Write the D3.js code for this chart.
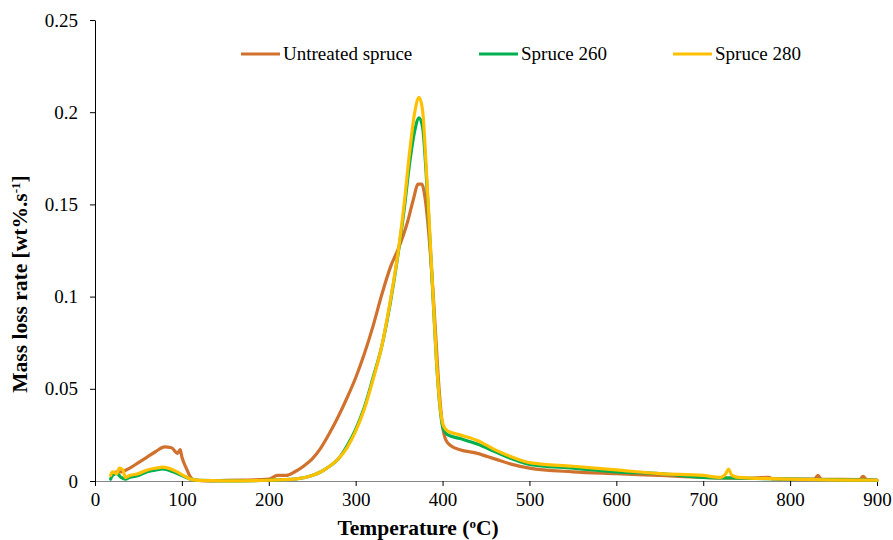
<!DOCTYPE html>
<html><head><meta charset="utf-8">
<script src="https://cdn.jsdelivr.net/npm/d3@7"></script>
<style>body{margin:0;background:#fff}svg{display:block}text{font-family:"Liberation Serif","Times New Roman",serif}</style>
</head><body><svg id="c" width="893" height="540"></svg>
<script>
// ---- data ----
const xTicks = [0,100,200,300,400,500,600,700,800,900];
const yTicks = [0,0.05,0.1,0.15,0.2,0.25];
const yTickLabels = ["0","0.05","0.1","0.15","0.2","0.25"];
const seriesNames = ["Untreated spruce","Spruce 260","Spruce 280"];
const seriesColors = ["#D0712E","#00B050","#FFC000"];

const untreatedT = [20,25,30,40,50,60,70,80,88,95,98,100,105,110,115,130,150,170,190,200,210,220,230,240,250,260,270,280,290,300,310,320,330,340,350,360,366,372,376,380,384,388,392,396,400,404,410,420,440,460,480,500,550,600,650,700,750,775,780,800,828,832,836,880,884,888,900];
const untreatedV = [0.004,0.005,0.005,0.007,0.010,0.013,0.016,0.0185,0.018,0.015,0.017,0.013,0.007,0.002,0.0004,0.0001,0.0003,0.0005,0.0007,0.001,0.003,0.003,0.005,0.008,0.012,0.018,0.026,0.035,0.045,0.056,0.069,0.084,0.101,0.116,0.127,0.141,0.152,0.161,0.161,0.153,0.135,0.110,0.080,0.050,0.030,0.022,0.019,0.017,0.015,0.012,0.009,0.007,0.005,0.004,0.003,0.002,0.0015,0.002,0.0012,0.001,0.001,0.003,0.001,0.0008,0.0025,0.0008,0.0005];

const s260T = [18,20,25,30,35,40,50,60,70,78,90,100,110,120,150,200,230,250,260,270,280,290,300,310,320,330,340,350,356,362,368,373,377,381,385,389,393,397,401,406,420,440,460,480,500,550,600,650,700,750,800,900];
const s260V = [0.001,0.003,0.004,0.002,0.001,0.002,0.003,0.005,0.006,0.0065,0.005,0.003,0.001,0.0003,0.0001,0.0004,0.001,0.003,0.005,0.008,0.012,0.019,0.028,0.040,0.056,0.073,0.097,0.127,0.148,0.172,0.190,0.197,0.192,0.168,0.135,0.100,0.065,0.040,0.028,0.025,0.023,0.020,0.016,0.012,0.009,0.007,0.005,0.004,0.002,0.0015,0.001,0.0003];

const s280T = [18,20,25,28,32,35,40,50,60,70,78,90,100,110,120,150,200,230,250,260,270,280,290,300,310,320,330,340,350,356,362,368,373,377,381,385,389,393,397,401,406,420,440,460,480,500,550,600,650,700,720,726,729,733,740,800,900];
const s280V = [0.003,0.005,0.004,0.007,0.006,0.002,0.003,0.004,0.006,0.007,0.0075,0.006,0.0035,0.001,0.0003,0.0001,0.0004,0.001,0.003,0.005,0.008,0.012,0.018,0.027,0.039,0.055,0.073,0.098,0.128,0.151,0.178,0.200,0.208,0.201,0.172,0.137,0.101,0.066,0.041,0.030,0.027,0.025,0.022,0.017,0.013,0.010,0.008,0.006,0.004,0.003,0.002,0.004,0.0065,0.003,0.002,0.001,0.0004];

const seriesT = [untreatedT, s260T, s280T];
const seriesV = [untreatedV, s260V, s280V];

// ---- layout ----
const svg = d3.select("#c");
const x = d3.scaleLinear().domain([0,900]).range([95,877]);
const y = d3.scaleLinear().domain([0,0.25]).range([481,20]);

// y axis
const yAx = svg.append("g").attr("transform","translate(95,0)")
  .call(d3.axisLeft(y).tickValues(yTicks).tickFormat((d,i)=>yTickLabels[i]).tickSize(5).tickSizeOuter(0).tickPadding(12));
yAx.select(".domain").attr("stroke","#000");
yAx.selectAll("text").attr("font-size","19px").attr("fill","#000").attr("font-family","Liberation Serif");

// x axis
const xAx = svg.append("g").attr("transform","translate(0,481)")
  .call(d3.axisBottom(x).tickValues(xTicks).tickFormat(d3.format("d")).tickSize(5).tickSizeOuter(0).tickPadding(7));
xAx.select(".domain").attr("stroke","#868686");
xAx.selectAll("text").attr("font-size","19px").attr("fill","#000").attr("font-family","Liberation Serif");

// lines
const line = d3.line().x(d=>x(d[0])).y(d=>y(d[1])).curve(d3.curveMonotoneX);
seriesT.forEach((ts,i)=>{
  const pts = ts.map((t,j)=>[t, seriesV[i][j]]);
  svg.append("path").datum(pts).attr("d",line).attr("fill","none")
    .attr("stroke",seriesColors[i]).attr("stroke-width",3.2).attr("stroke-linejoin","round").attr("stroke-linecap","round");
});

// legend
const legX = [241,479,673];
seriesNames.forEach((n,i)=>{
  svg.append("line").attr("x1",legX[i]).attr("x2",legX[i]+39).attr("y1",54).attr("y2",54)
    .attr("stroke",seriesColors[i]).attr("stroke-width",3.2);
  svg.append("text").attr("x",legX[i]+42).attr("y",60).attr("font-size","19px").attr("fill","#000").text(n);
});

// axis titles
const xt = svg.append("text").attr("x",418).attr("y",535).attr("text-anchor","middle")
  .attr("font-size","21.5px").attr("font-weight","bold").attr("fill","#000");
xt.append("tspan").text("Temperature (");
xt.append("tspan").attr("baseline-shift","super").attr("font-size","13px").text("o");
xt.append("tspan").text("C)");

const yt = svg.append("text").attr("transform","translate(27,284) rotate(-90)").attr("text-anchor","middle")
  .attr("font-size","21.5px").attr("font-weight","bold").attr("fill","#000");
yt.append("tspan").text("Mass loss rate [wt%.s");
yt.append("tspan").attr("baseline-shift","super").attr("font-size","13px").text("-1");
yt.append("tspan").text("]");
</script></body></html>
